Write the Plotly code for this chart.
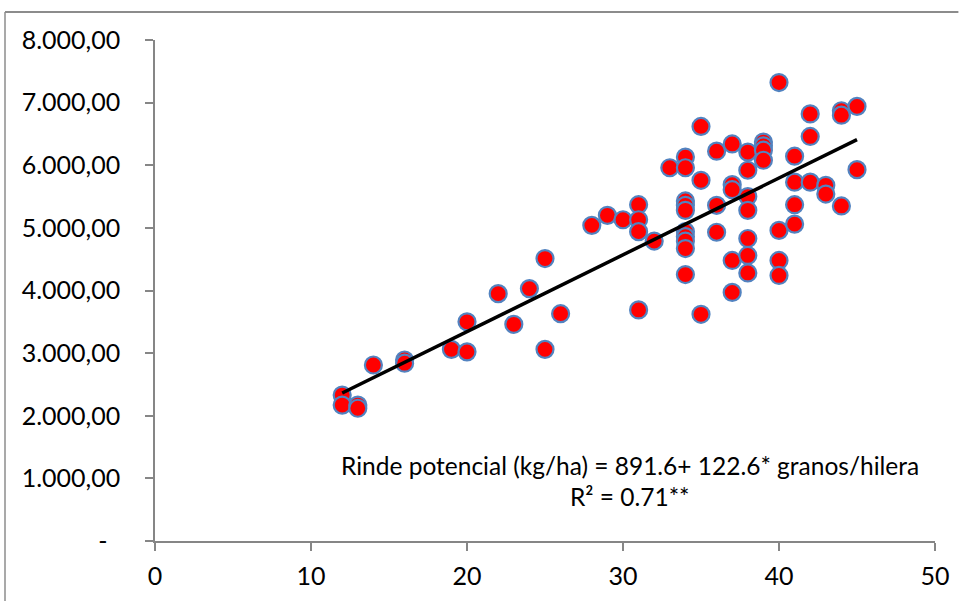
import plotly.graph_objects as go

# granos/hilera (x) and Rinde potencial kg/ha (y)
granos_hilera = [
    12, 12, 13, 13, 14, 16, 16, 19, 20, 20,
    22, 23, 24, 25, 25, 26, 28, 29, 30, 31,
    31, 31, 31, 32, 33, 34, 34, 34, 34, 34,
    34, 34, 34, 34, 34, 35, 35, 35, 36, 36,
    36, 37, 37, 37, 37, 37, 38, 38, 38, 38,
    38, 38, 38, 39, 39, 39, 39, 40, 40, 40,
    40, 41, 41, 41, 41, 42, 42, 42, 43, 43,
    44, 44, 44, 45, 45,
]
rinde = [
    2330, 2170, 2170, 2120, 2810, 2890, 2840, 3060, 3500, 3020,
    3950, 3460, 4030, 4510, 3060, 3630, 5040, 5200, 5130, 5370,
    5130, 4940, 3690, 4790, 5960, 6130, 5960, 5430, 5360, 5280,
    4940, 4860, 4790, 4670, 4255, 6620, 5760, 3620, 6225, 5360,
    4930, 6340, 5690, 5610, 4480, 3970, 6210, 5920, 5500, 5280,
    4830, 4560, 4280, 6370, 6310, 6240, 6080, 7320, 4960, 4480,
    4240, 6145, 5730, 5370, 5060, 6820, 6460, 5730, 5680, 5540,
    6870, 6800, 5350, 6940, 5930,
]

# regression shown on the chart
intercept = 891.6
slope = 122.6
trend_x = [min(granos_hilera), max(granos_hilera)]
trend_y = [intercept + slope * v for v in trend_x]

x_ticks = [0, 10, 20, 30, 40, 50]
y_ticks = [0, 1000, 2000, 3000, 4000, 5000, 6000, 7000, 8000]
y_ticktext = ["-\u00a0\u00a0", "1.000,00", "2.000,00", "3.000,00", "4.000,00",
              "5.000,00", "6.000,00", "7.000,00", "8.000,00"]

eq_text = "Rinde potencial (kg/ha) = 891.6+ 122.6* granos/hilera"
r2_text = "R² = 0.71**"

FONT = "Lato"
AXIS = "#868686"

fig = go.Figure()
fig.add_trace(go.Scatter(
    x=granos_hilera, y=rinde, mode="markers",
    marker=dict(size=17, color="#FF0000", line=dict(color="#5283C0", width=2.2)),
    showlegend=False,
))
fig.add_trace(go.Scatter(
    x=trend_x, y=trend_y, mode="lines",
    line=dict(color="black", width=3.5), showlegend=False,
))

axis_common = dict(
    showline=True, linecolor=AXIS, linewidth=1.5,
    ticks="outside", ticklen=8, tickwidth=1.5, tickcolor=AXIS,
    showgrid=False, zeroline=False, automargin=False,
    tickfont=dict(family=FONT, size=25, color="black"),
)
fig.update_xaxes(range=[0, 50], tickvals=x_ticks, ticklabelstandoff=4, **axis_common)
fig.update_yaxes(range=[0, 8000], tickvals=y_ticks, ticktext=y_ticktext,
                 ticklabelstandoff=20, **axis_common)

fig.add_annotation(x=30.45, y=1210, xref="x", yref="y", text=eq_text,
                   showarrow=False, xanchor="center", yanchor="middle",
                   font=dict(family=FONT, size=24.5, color="black"))
fig.add_annotation(x=30.45, y=715, xref="x", yref="y", text=r2_text,
                   showarrow=False, xanchor="center", yanchor="middle",
                   font=dict(family=FONT, size=24.5, color="black"))

# outer chart frame (left and top edges visible)
FRAME_L = -150 / 780
FRAME_T = 529 / 501
fig.add_shape(type="line", xref="paper", yref="paper",
              x0=FRAME_L, x1=FRAME_L, y0=-0.2, y1=FRAME_T,
              line=dict(color="#8C8C8C", width=1.5))
fig.add_shape(type="line", xref="paper", yref="paper",
              x0=FRAME_L, x1=1.03, y0=FRAME_T, y1=FRAME_T,
              line=dict(color="#8C8C8C", width=2))

fig.update_layout(
    width=966, height=601,
    margin=dict(l=155, r=31, t=40, b=60),
    plot_bgcolor="white", paper_bgcolor="white",
    font=dict(family=FONT, color="black"),
)

fig.write_html(
    "out.html",
    config={"displayModeBar": False},
    post_script="document.body.style.margin='0';document.body.style.overflow='hidden';",
)
